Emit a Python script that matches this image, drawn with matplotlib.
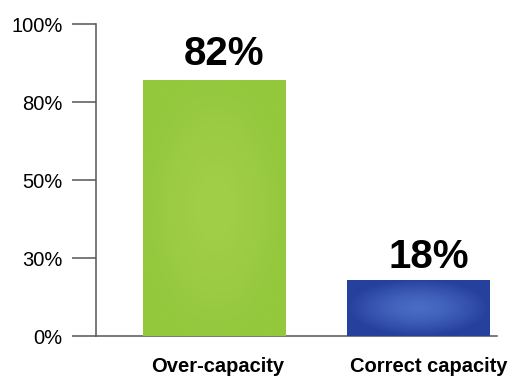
import matplotlib
matplotlib.use('Agg')
import matplotlib.pyplot as plt
import numpy as np

categories = ['Over-capacity', 'Correct capacity']
values = [82, 18]
value_labels = ['82%', '18%']
tick_positions = [0, 25, 50, 75, 100]
tick_labels = ['0%', '30%', '50%', '80%', '100%']
bar_colors = ['#94c83d', '#26409e']
glow_colors = ['#a2cf48', '#4a6cc4']

plt.rcParams['font.family'] = ['Liberation Sans', 'DejaVu Sans']

fig = plt.figure(figsize=(5.15, 3.82), dpi=100)
ax = fig.add_axes([96 / 515, 46 / 382, 401 / 515, 312 / 382])

x = np.arange(len(categories))
bars = ax.bar(x, values, width=0.7, color=bar_colors, zorder=2)

# soft glow in the middle of each bar
for bar, base, glow in zip(bars, bar_colors, glow_colors):
    bx, by = bar.get_x(), bar.get_y()
    bw, bh = bar.get_width(), bar.get_height()
    yy, xx = np.mgrid[-1:1:60j, -1:1:60j]
    r = np.clip(np.sqrt(xx ** 2 + yy ** 2), 0, 1)
    c0 = np.array(matplotlib.colors.to_rgb(glow))
    c1 = np.array(matplotlib.colors.to_rgb(base))
    img = c0 + (c1 - c0) * r[..., None] ** 1.5
    im = ax.imshow(img, extent=[bx, bx + bw, by, by + bh], aspect='auto',
                   zorder=3, interpolation='bilinear')
    im.set_clip_path(bar)

offsets = [(7, 5), (8, 3)]
for xi, v, lab, off in zip(x, values, value_labels, offsets):
    ax.annotate(lab, (xi, v), xytext=off, textcoords='offset points',
                ha='center', va='bottom', fontsize=29, fontweight='bold')

cat_offsets = [3, 8]
for xi, cat, off in zip(x, categories, cat_offsets):
    ax.annotate(cat, (xi, 0), xytext=(off, -15), textcoords='offset points',
                ha='center', va='top', fontsize=14.5, fontweight='bold',
                annotation_clip=False)

ax.set_xlim(-0.578, 1.387)
ax.set_ylim(0, 100)
ax.set_xticks([])
ax.set_yticks(tick_positions)
ax.set_yticklabels(tick_labels, fontsize=14.5)
ax.tick_params(axis='y', length=17, width=1.1, color='#555555', pad=7)

for side in ['top', 'right']:
    ax.spines[side].set_visible(False)
for side in ['left', 'bottom']:
    ax.spines[side].set_color('#555555')
    ax.spines[side].set_linewidth(1.1)

fig.savefig('out.png', dpi=100)
